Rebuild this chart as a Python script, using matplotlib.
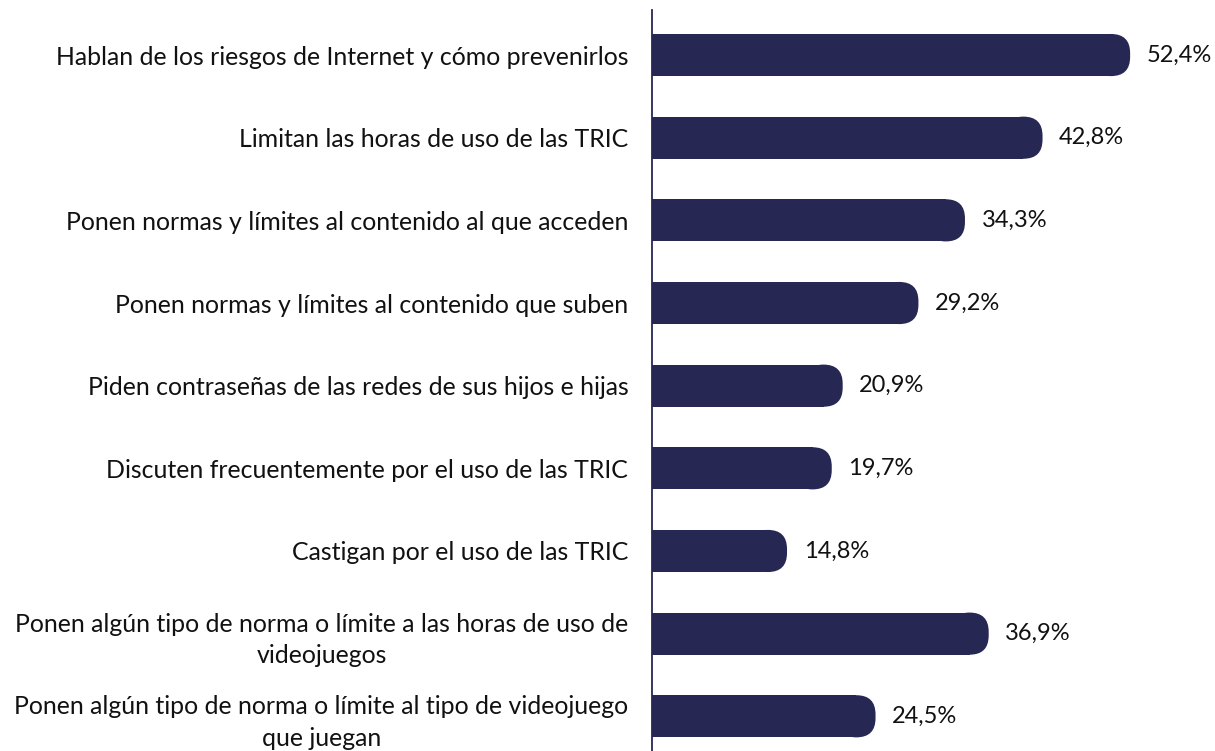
import numpy as np
import matplotlib.pyplot as plt
from matplotlib.patches import FancyBboxPatch

plt.rcParams['font.family'] = ['Lato', 'DejaVu Sans']

# --- datos ---
labels = [
    "Hablan de los riesgos de Internet y cómo prevenirlos",
    "Limitan las horas de uso de las TRIC",
    "Ponen normas y límites al contenido al que acceden",
    "Ponen normas y límites al contenido que suben",
    "Piden contraseñas de las redes de sus hijos e hijas",
    "Discuten frecuentemente por el uso de las TRIC",
    "Castigan por el uso de las TRIC",
    "Ponen algún tipo de norma o límite a las horas de uso de\nvideojuegos",
    "Ponen algún tipo de norma o límite al tipo de videojuego\nque juegan",
]
values = [52.4, 42.8, 34.3, 29.2, 20.9, 19.7, 14.8, 36.9, 24.5]

bar_color = "#262853"
bar_h = 0.51

fig = plt.figure(figsize=(12.15, 7.51), dpi=100)
ax = fig.add_axes([0.5366, 0.0, 0.4634, 0.9867])

xmax = 61.7
ax.set_xlim(0, xmax)
ax.set_ylim(8.42, -0.545)

# radio de redondeo del extremo derecho (en unidades de datos)
rx = 2.1
ry = rx * (9.12 / 82.6)

y = np.arange(len(values))
for yi, v in zip(y, values):
    ax.barh(yi, v - rx, height=bar_h, color=bar_color, left=0)
    cap = FancyBboxPatch((v - 2 * rx, yi - bar_h / 2), 2 * rx, bar_h,
                         boxstyle=f"round,pad=0,rounding_size={rx}",
                         mutation_aspect=ry / rx,
                         fc=bar_color, ec="none")
    ax.add_patch(cap)
    ax.annotate(f"{v:.1f}%".replace(".", ","), (v, yi),
                xytext=(12, 0), textcoords="offset points",
                va="center", ha="left", fontsize=17, color="#111111")

ax.set_yticks(y)
ax.set_yticklabels(labels, fontsize=17.9, color="#111111", multialignment="center")
for t in ax.get_yticklabels():
    t.set_linespacing(1.45)
ax.tick_params(axis="y", length=0, pad=17)
ax.set_xticks([])

for s in ["top", "right", "bottom"]:
    ax.spines[s].set_visible(False)
ax.spines["left"].set_color(bar_color)
ax.spines["left"].set_linewidth(1.3)

fig.savefig("out.png", dpi=100)
